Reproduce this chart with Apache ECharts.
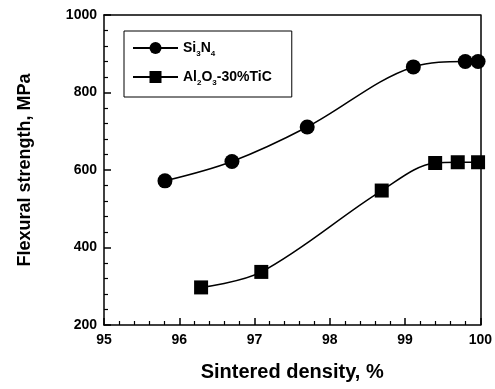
<!DOCTYPE html>
<html>
<head>
<meta charset="utf-8">
<script src="https://cdn.jsdelivr.net/npm/echarts@6/dist/echarts.min.js"></script>
<style>
  html, body { margin: 0; padding: 0; background: #fff; }
  #chart { width: 495px; height: 389px; }
</style>
</head>
<body>
<div id="chart"></div>
<script>
// density (%) and flexural strength (MPa)
const si3n4Density = [95.81, 96.7, 97.7, 99.11, 99.8, 99.97];
const si3n4Strength = [572, 622, 711, 866, 880, 880];
const alDensity = [96.29, 97.09, 98.69, 99.4, 99.7, 99.97];
const alStrength = [297, 337, 547, 618, 620, 620];
const seriesNames = ['Si3N4', 'Al2O3-30%TiC'];
const legendLabels = ['Si{s|3}N{s|4}', 'Al{s|2}O{s|3}-30%TiC'];

const zip = (xs, ys) => xs.map((x, i) => [x, ys[i]]);

const chart = echarts.init(document.getElementById('chart'));
const font = 'Liberation Sans, Arial, sans-serif';

const line = { show: true, onZero: false, lineStyle: { color: '#000', width: 1.5 } };
const tick = { show: true, inside: true, length: 7, lineStyle: { color: '#000', width: 1.5 } };
const minor = { show: true, splitNumber: 5, length: 4, lineStyle: { color: '#000', width: 1.2 } };
const labelStyle = { fontFamily: font, fontWeight: 'bold', fontSize: 14, color: '#000' };
const nameStyle = { fontFamily: font, fontWeight: 'bold', color: '#000' };
const frame = { axisLine: line, axisTick: { show: false }, axisLabel: { show: false }, splitLine: { show: false } };

const option = {
  animation: false,
  grid: { left: 104, right: 13, top: 15, bottom: 64 },
  legend: {
    left: 124, top: 31,
    orient: 'vertical',
    itemWidth: 45, itemHeight: 15, itemGap: 12,
    padding: [10, 20, 10, 8],
    borderColor: '#000', borderWidth: 1,
    data: seriesNames,
    formatter: (name) => legendLabels[seriesNames.indexOf(name)],
    textStyle: {
      ...labelStyle,
      rich: {
        s: { fontSize: 8, fontWeight: 'bold', fontFamily: font, color: '#000', padding: [12, 0, 0, 0] }
      }
    }
  },
  xAxis: [
    {
      type: 'value', min: 95, max: 100, interval: 1, position: 'bottom',
      name: 'Sintered density, %', nameLocation: 'middle', nameGap: 37,
      nameTextStyle: { ...nameStyle, fontSize: 20 },
      axisLine: line, axisTick: tick, minorTick: minor,
      axisLabel: { ...labelStyle, margin: 8 },
      splitLine: { show: false }
    },
    { type: 'value', min: 95, max: 100, position: 'top', ...frame }
  ],
  yAxis: [
    {
      type: 'value', min: 200, max: 1000, interval: 200, position: 'left',
      name: 'Flexural strength, MPa', nameLocation: 'middle', nameGap: 70,
      nameTextStyle: { ...nameStyle, fontSize: 18 },
      axisLine: line, axisTick: tick, minorTick: minor,
      axisLabel: { ...labelStyle, margin: 7, formatter: (v) => String(v) },
      splitLine: { show: false }
    },
    { type: 'value', min: 200, max: 1000, position: 'right', ...frame }
  ],
  series: [
    {
      name: seriesNames[0], type: 'line', smooth: 0.35,
      data: zip(si3n4Density, si3n4Strength),
      symbol: 'circle', symbolSize: 15,
      itemStyle: { color: '#000' },
      lineStyle: { color: '#000', width: 1.5 }
    },
    {
      name: seriesNames[1], type: 'line', smooth: 0.35,
      data: zip(alDensity, alStrength),
      symbol: 'rect', symbolSize: 14,
      itemStyle: { color: '#000' },
      lineStyle: { color: '#000', width: 1.5 }
    }
  ]
};
chart.setOption(option);
</script>
</body>
</html>
